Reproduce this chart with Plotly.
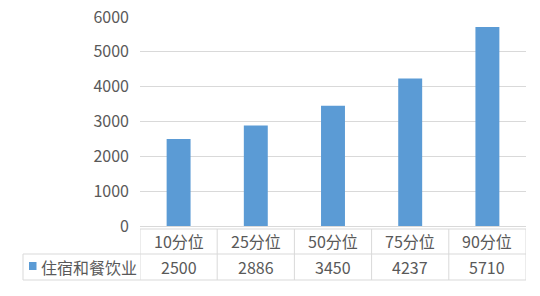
import plotly.graph_objects as go

categories = ["10分位", "25分位", "50分位", "75分位", "90分位"]
series_name = "住宿和餐饮业"
values = [2500, 2886, 3450, 4237, 5710]
y_ticks = [0, 1000, 2000, 3000, 4000, 5000, 6000]

BAR = "#5B9BD5"
GRID = "#D9D9D9"
TXT = "#595959"
FONT = "Noto Sans CJK SC"

W, H = 540, 296
ML, MR, MT, MB = 140, 14, 17, 70
PH = H - MT - MB


def py(p):
    # pixel row -> paper y
    return (H - MB - p) / PH


def px(p):
    # pixel column -> paper x
    return (p - ML) / (W - ML - MR)


fig = go.Figure()
fig.add_trace(go.Bar(
    x=list(range(len(categories))), y=values, marker_color=BAR,
    marker_line_width=0, name=series_name, showlegend=False,
))

shapes = []
n = len(categories)
line = dict(color=GRID, width=1)
# horizontal table lines
shapes.append(dict(type="line", xref="x", yref="paper", x0=-0.5, x1=n - 0.5,
                   y0=py(229), y1=py(229), line=line))
for yy in (254, 280):
    shapes.append(dict(type="line", xref="paper", yref="paper", x0=px(23), x1=1,
                       y0=py(yy), y1=py(yy), line=line))
# vertical table lines
for i in range(n + 1):
    shapes.append(dict(type="line", xref="x", yref="paper", x0=i - 0.5, x1=i - 0.5,
                       y0=py(229), y1=py(280), line=line))
shapes.append(dict(type="line", xref="paper", yref="paper", x0=px(23), x1=px(23),
                   y0=py(254), y1=py(280), line=line))
# legend key
shapes.append(dict(type="rect", xref="paper", yref="paper", x0=px(29), x1=px(36.5),
                   y0=py(270), y1=py(262), fillcolor=BAR, line=dict(width=0)))

tfont = dict(size=16, color=TXT, family=FONT)
annotations = []
for i, (c, v) in enumerate(zip(categories, values)):
    annotations.append(dict(x=i, y=py(241.5), xref="x", yref="paper", text=c,
                            xanchor="center", yanchor="middle",
                            showarrow=False, font=tfont))
    annotations.append(dict(x=i, y=py(267), xref="x", yref="paper", text=str(v),
                            xanchor="center", yanchor="middle",
                            showarrow=False, font=tfont))
annotations.append(dict(x=px(38.5), y=py(267), xref="paper", yref="paper", text=series_name,
                        xanchor="left", yanchor="middle", showarrow=False, font=tfont))

fig.update_layout(
    width=W, height=H,
    margin=dict(l=ML, r=MR, t=MT, b=MB, pad=0, autoexpand=False),
    plot_bgcolor="white", paper_bgcolor="white",
    bargap=0.69,
    shapes=shapes, annotations=annotations,
    font=dict(family=FONT, size=16, color=TXT),
    xaxis=dict(range=[-0.5, n - 0.5], showticklabels=False, showgrid=False,
               showline=True, linecolor=GRID, linewidth=1, zeroline=False,
               fixedrange=True, automargin=False),
    yaxis=dict(range=[0, 6000], tickvals=y_ticks, showgrid=True, gridcolor=GRID,
               gridwidth=1, zeroline=False, showline=False, automargin=False,
               tickfont=tfont, ticklabelstandoff=10),
)

fig.write_html("out.html")
